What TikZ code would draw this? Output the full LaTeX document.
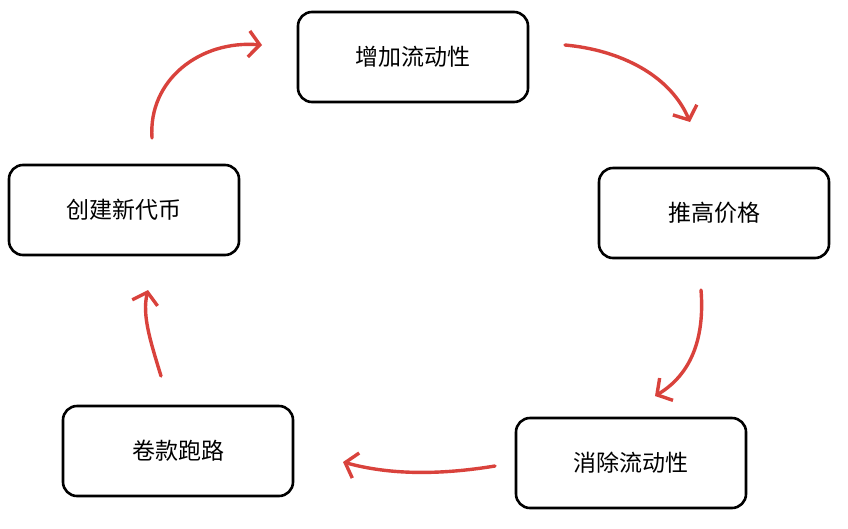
\documentclass[tikz,border=0pt]{standalone}
\usepackage{fontspec}
\newfontfamily\cjk{Noto Sans CJK SC}
\usepackage{tikz}
\usetikzlibrary{arrows.meta}
\definecolor{arrowRed}{HTML}{D9423C}

\begin{document}
\begin{tikzpicture}[x=1pt, y=-1pt]
        \tikzstyle{boxStyle} = [draw=black, line width=2.6pt, rounded corners=14pt,
                minimum width=230pt, minimum height=90pt, fill=white,
                font=\cjk\fontsize{23}{27}\selectfont]
        \tikzstyle{redArrow} = [draw=arrowRed, line width=3.4pt, line cap=round,
                -{Straight Barb[length=11pt, width=26pt, line width=3.4pt]}]
        \useasboundingbox (0,0) rectangle (848,528);
        \node[boxStyle] (Up) at (413,57) {增加流动性};
        \node[boxStyle] (Price) at (714,213) {推高价格};
        \node[boxStyle] (Drain) at (631,463) {消除流动性};
        \node[boxStyle] (Rug) at (178,451) {卷款跑路};
        \node[boxStyle] (Mint) at (124,210) {创建新代币};
        \coordinate (a1) at (152,138);
        \coordinate (a2) at (262,45);
        \coordinate (b1) at (565,45);
        \coordinate (b2) at (690,122);
        \coordinate (c1) at (701,290);
        \coordinate (c2) at (655,396);
        \coordinate (d1) at (495,466);
        \coordinate (d2) at (343,462);
        \coordinate (e1) at (161,376);
        \coordinate (e2) at (148,290);
        \path[redArrow] (a1) .. controls (148,80) and (200,40) .. (a2);
        \path[redArrow] (b1) .. controls (620,50) and (670,75) .. (b2);
        \path[redArrow] (c1) .. controls (705,340) and (690,375) .. (c2);
        \path[redArrow] (d1) .. controls (440,475) and (390,475) .. (d2);
        \path[redArrow] (e1) .. controls (150,340) and (142,315) .. (e2);
\end{tikzpicture}
\end{document}
